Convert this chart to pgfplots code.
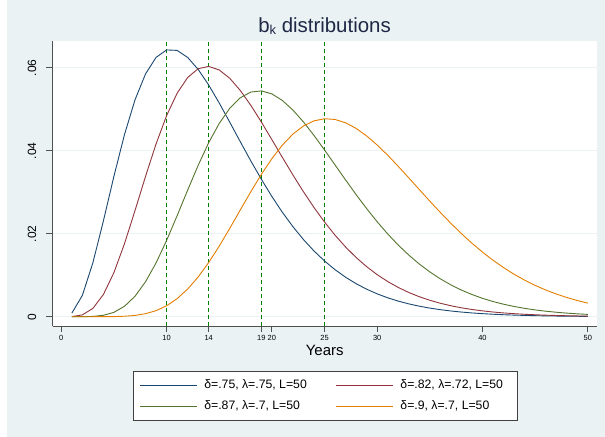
\documentclass[border=0pt]{standalone}
\usepackage{pgfplots}
\usepackage{pgfplotstable}
\pgfplotsset{compat=1.18}
\usepackage{fontspec}
\setmainfont{Liberation Sans}

\definecolor{stnavy}{RGB}{26,71,111}
\definecolor{stmaroon}{RGB}{144,53,59}
\definecolor{stforest}{RGB}{85,117,47}
\definecolor{storange}{RGB}{227,126,0}
\definecolor{stbg}{RGB}{234,242,243}
\definecolor{sttitle}{RGB}{30,40,70}
\definecolor{stgreen}{RGB}{0,128,0}
\definecolor{stax}{RGB}{80,80,80}

% b_k weights, k = 1..50
\pgfplotstableread{
k  b1        b2        b3         b4
1  0.000856  0.000026  0.0000001  0.0000000
2  0.005137  0.000439  0.0000067  0.0000000
3  0.013003  0.002005  0.0000707  0.0000006
4  0.023116  0.005352  0.000339   0.0000059
5  0.033862  0.010650  0.001057   0.0000306
6  0.043885  0.017595  0.002508   0.000111
7  0.052266  0.025568  0.004925   0.000310
8  0.058514  0.033824  0.008425   0.000722
9  0.062485  0.041647  0.012972   0.001458
10 0.064285  0.048458  0.018379   0.002634
11 0.064172  0.053860  0.024347   0.004348
12 0.062485  0.057643  0.030509   0.006660
13 0.059583  0.059764  0.036489   0.009581
14 0.055813  0.060310  0.041942   0.013067
15 0.051486  0.059460  0.046588   0.017019
16 0.046864  0.057444  0.050228   0.021296
17 0.042159  0.054515  0.052753   0.025725
18 0.037533  0.050926  0.054134   0.030120
19 0.033107  0.046907  0.054414   0.034300
20 0.028961  0.042663  0.053690   0.038095
21 0.025144  0.038362  0.052095   0.041369
22 0.021683  0.034141  0.049785   0.044015
23 0.018582  0.030099  0.046924   0.045967
24 0.015834  0.026308  0.043671   0.047195
25 0.013423  0.022813  0.040174   0.047704
26 0.011324  0.019639  0.036562   0.047529
27 0.009511  0.016793  0.032946   0.046727
28 0.007956  0.014270  0.029418   0.045375
29 0.006629  0.012055  0.026043   0.043558
30 0.005504  0.010129  0.022873   0.041369
31 0.004555  0.008468  0.019940   0.038900
32 0.003758  0.007046  0.017262   0.036235
33 0.003091  0.005836  0.014847   0.033458
34 0.002535  0.004814  0.012691   0.030640
35 0.002074  0.003956  0.010786   0.027841
36 0.001693  0.003238  0.009116   0.025113
37 0.001378  0.002641  0.007666   0.022494
38 0.001120  0.002147  0.006414   0.020018
39 0.000908  0.001740  0.005343   0.017703
40 0.000735  0.001406  0.004430   0.015563
41 0.000593  0.001133  0.003658   0.013605
42 0.000478  0.000910  0.003009   0.011831
43 0.000385  0.000730  0.002466   0.010235
44 0.000309  0.000583  0.002013   0.008811
45 0.000248  0.000465  0.001638   0.007550
46 0.000199  0.000370  0.001328   0.006441
47 0.000159  0.000294  0.001074   0.005472
48 0.000127  0.000233  0.000865   0.004629
49 0.000101  0.000184  0.000695   0.003901
50 0.000081  0.000146  0.000557   0.003276
}\bk

\begin{document}
\begin{tikzpicture}
% graph region
\fill[white] (0bp,0bp) rectangle (605bp,437bp);
\fill[stbg] (7bp,0bp) rectangle (605bp,437bp);

\begin{axis}[
  at={(52.5bp,111bp)}, anchor=south west,
  scale only axis,
  width=544.5bp, height=285.3bp,
  xmin=-0.836, xmax=50.875,
  ymin=-0.00224, ymax=0.06651,
  axis background/.style={fill=white},
  axis x line*=bottom, axis y line*=left,
  axis line style={-, stax, line width=0.8bp},
  tick align=outside,
  major tick length=6bp,
  tick style={stax, line width=0.8bp},
  xtick={0,10,14,19,20,25,30,40,50},
  xticklabels={0,10,14,19,20,25,30,40,50},
  xticklabel style={font=\fontsize{7.5}{9}\selectfont, inner sep=0pt},
  xticklabel shift=3bp,
  ytick={0,0.02,0.04,0.06},
  yticklabels={0,.02,.04,.06},
  scaled y ticks=false,
  yticklabel style={rotate=90, anchor=south, font=\fontsize{12}{14}\selectfont, inner sep=0pt},
  yticklabel shift=10bp,
  ymajorgrids,
  grid style={stbg, line width=1.2bp},
  legend columns=2,
  legend cell align=left,
  legend image code/.code={\draw[#1] (0bp,0bp) -- (56.7bp,0bp);},
  legend style={
    at={(0.5011,-0.2446)}, anchor=center,
    draw=black!75, line width=0.8bp, fill=white,
    font=\fontsize{12.3}{14}\selectfont,
    inner xsep=6bp, inner ysep=8bp,
    row sep=9bp,
    nodes={inner sep=0pt, text height=9.5bp, text depth=2.5bp},
    /tikz/every odd column/.append style={column sep=7bp},
    /tikz/every even column/.append style={column sep=29bp},
  },
]
% reference lines at the modes
\addplot[forget plot, stgreen, line width=0.8bp, dash pattern=on 4bp off 3bp] coordinates {(10,-0.00224) (10,0.06651)};
\addplot[forget plot, stgreen, line width=0.8bp, dash pattern=on 4bp off 3bp] coordinates {(14,-0.00224) (14,0.06651)};
\addplot[forget plot, stgreen, line width=0.8bp, dash pattern=on 4bp off 3bp] coordinates {(19,-0.00224) (19,0.06651)};
\addplot[forget plot, stgreen, line width=0.8bp, dash pattern=on 4bp off 3bp] coordinates {(25,-0.00224) (25,0.06651)};

\addplot[stnavy, line width=0.9bp] table[x=k, y=b1] {\bk};
\addlegendentry{δ=.75, λ=.75, L=50}
\addplot[stmaroon, line width=0.9bp] table[x=k, y=b2] {\bk};
\addlegendentry{δ=.82, λ=.72, L=50\hspace*{8bp}}
\addplot[stforest, line width=0.9bp] table[x=k, y=b3] {\bk};
\addlegendentry{δ=.87, λ=.7, L=50}
\addplot[storange, line width=0.9bp] table[x=k, y=b4] {\bk};
\addlegendentry{δ=.9, λ=.7, L=50\hspace*{8bp}}
\end{axis}

\node[anchor=base, text=sttitle, font=\fontsize{20.5}{24}\selectfont] at (324.5bp,404.7bp)
  {b\raisebox{-2bp}{\fontsize{13}{14}\selectfont k} distributions};
\node[anchor=base, font=\fontsize{15}{18}\selectfont] at (324.7bp,81bp) {Years};
\end{tikzpicture}
\end{document}
